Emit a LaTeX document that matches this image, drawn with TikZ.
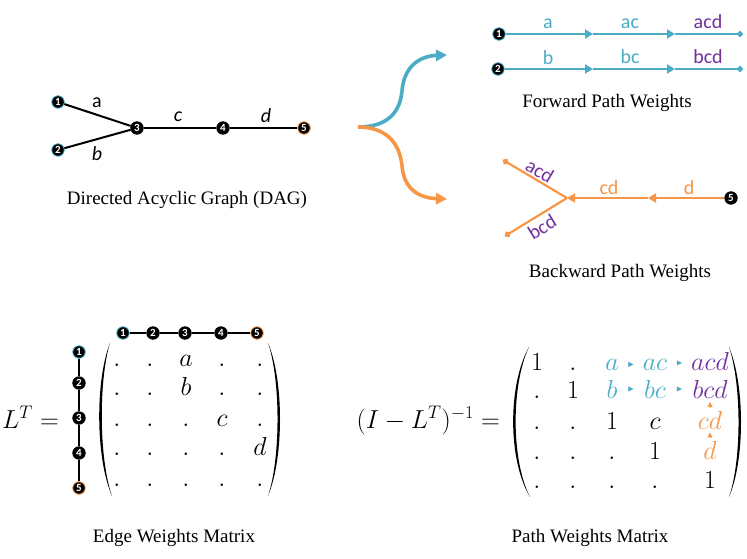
\documentclass[tikz,border=0pt]{standalone}
\usepackage{fix-cm}
\usepackage[no-math]{fontspec}
\setmainfont{Liberation Serif}
\newfontfamily\lblfont{Carlito}
\usetikzlibrary{arrows.meta,positioning,calc}
\definecolor{pathblue}{RGB}{75,172,198}
\definecolor{pathorange}{RGB}{247,150,70}
\definecolor{pathpurple}{RGB}{112,48,160}
\tikzset{
  vtx/.style={circle, fill=black, draw=black, line width=0.8pt, inner sep=0pt,
              minimum size=12.5pt, text=white, font=\lblfont\bfseries\fontsize{11}{11}\selectfont},
  srcvtx/.style={vtx, draw=pathblue},
  snkvtx/.style={vtx, draw=pathorange},
  dagedge/.style={black, line width=2pt},
  fwd/.style={pathblue, line width=2.2pt},
  bwd/.style={pathorange, line width=2.2pt},
  fwdtip/.style={-{Triangle[length=8pt,width=9pt]}},
  endtip/.style={-{Circle[length=6pt]}},
  splitarr/.style={line width=3.6pt, -{Triangle[length=11pt,width=11pt]}},
  wlbl/.style={font=\lblfont\fontsize{20}{20}\selectfont, inner sep=1pt},
  caption/.style={font=\fontsize{19}{19}\selectfont},
  ent/.style={font=\fontsize{26}{30}\selectfont, inner sep=0pt, anchor=base},
  mtip/.style={-{Triangle[length=5pt,width=5pt]}, line width=0.4pt},
}
\begin{document}
\begin{tikzpicture}[x=1pt,y=-1pt]
\useasboundingbox (0,0) rectangle (747,559);

% the DAG
\node[srcvtx] (d1) at (58,102) {1};
\node[srcvtx] (d2) at (58,150) {2};
\node[vtx] (d3) at (137,128) {3};
\node[vtx] (d4) at (223,128) {4};
\node[snkvtx] (d5) at (304,128) {5};
\draw[dagedge] (d1) -- (d3);
\draw[dagedge] (d2) -- (d3);
\draw[dagedge] (d3) -- (d4);
\draw[dagedge] (d4) -- (d5);
\node[wlbl] (la) at (97,103) {a};
\node[wlbl] (lb) at (97,154) {\itshape b};
\node[wlbl] (lc) at (178,117) {\itshape c};
\node[wlbl] (ld) at (266,116) {\itshape d};
\node[caption] (dagcap) at (187,200) {Directed Acyclic Graph (DAG)};

% split into forward / backward
\coordinate (split) at (358,127);
\coordinate (fwdend) at (447,55);
\coordinate (bwdend) at (447,199);
\draw[splitarr, pathblue] (split) .. controls (388,127) and (400,112) .. (402,91)
  .. controls (404,66) and (420,56) .. (fwdend);
\draw[splitarr, pathorange] (split) .. controls (388,127) and (400,145) .. (402,166)
  .. controls (404,190) and (420,198) .. (bwdend);

% forward path weights
\node[srcvtx] (f1) at (499,34) {1};
\node[srcvtx] (f2) at (498,69) {2};
\coordinate (f1a) at (593,34);
\coordinate (f1b) at (675,34);
\coordinate (f1e) at (743,34);
\coordinate (f2a) at (593,69);
\coordinate (f2b) at (675,69);
\coordinate (f2e) at (743,69);
\draw[fwd, fwdtip] (f1) -- (f1a);
\draw[fwd, fwdtip] (f1a) -- (f1b);
\draw[fwd, endtip] (f1b) -- (f1e);
\draw[fwd, fwdtip] (f2) -- (f2a);
\draw[fwd, fwdtip] (f2a) -- (f2b);
\draw[fwd, endtip] (f2b) -- (f2e);
\node[wlbl, text=pathblue] (fa) at (548,24) {a};
\node[wlbl, text=pathblue] (fac) at (630,24) {ac};
\node[wlbl, text=pathpurple] (facd) at (708,22) {acd};
\node[wlbl, text=pathblue] (fb) at (548,58) {b};
\node[wlbl, text=pathblue] (fbc) at (630,57) {bc};
\node[wlbl, text=pathpurple] (fbcd) at (708,57) {bcd};
\node[caption] (fwdcap) at (607,103) {Forward Path Weights};

% backward path weights
\node[vtx] (b5) at (731,198) {5};
\coordinate (bmid) at (648,198);
\coordinate (bjoin) at (567,198);
\coordinate (bup) at (503,160);
\coordinate (blow) at (505,236);
\draw[bwd, fwdtip] (b5) -- (bmid);
\draw[bwd, fwdtip] (bmid) -- (bjoin);
\draw[bwd, endtip] (bjoin) -- (bup);
\draw[bwd, endtip] (bjoin) -- (blow);
\node[wlbl, text=pathorange] (bd) at (689,188) {d};
\node[wlbl, text=pathorange] (bcd) at (609,188) {cd};
\node[wlbl, text=pathpurple, rotate=-30.7] (bacd) at (540,171) {acd};
\node[wlbl, text=pathpurple, rotate=31.5] (bbcd) at (542,227) {bcd};
\node[caption] (bwdcap) at (620,273) {Backward Path Weights};

% edge weights matrix
\node[ent, anchor=base east] (ltlhs) at (59,428) {$L^T =$};
\foreach \x/\s [count=\i] in {123/srcvtx,153/vtx,185/vtx,221/vtx,257/snkvtx}
  \node[\s] (lc\i) at (\x,333) {\i};
\foreach \y/\s [count=\i] in {352/srcvtx,383/vtx,418/vtx,453/vtx,488/snkvtx}
  \node[\s] (lr\i) at (79,\y) {\i};
\draw[black, line width=1.6pt] (lc1) -- (lc2) -- (lc3) -- (lc4) -- (lc5);
\draw[black, line width=1.6pt] (lr1) -- (lr2) -- (lr3) -- (lr4) -- (lr5);
\foreach \y/\row [count=\i] in {366/{.,.,a,.,.}, 395/{.,.,b,.,.}, 426/{.,.,.,c,.},
                                455/{.,.,.,.,d}, 486/{.,.,.,.,.}}
  \foreach \e [count=\j] in \row {
    \pgfmathsetmacro{\ex}{{117,150,186,222,260}[\j-1]}
    \node[ent] (e\i\j) at (\ex,\y) {$\e$};
  }
% parentheses
\fill (110,343) .. controls (95.3,380) and (95.3,458) .. (112,496)
  .. controls (98.7,458) and (98.7,380) .. (110,343);
\fill (268,343) .. controls (284,380) and (284,458) .. (268,496)
  .. controls (280.7,458) and (280.7,380) .. (268,343);
\node[caption] (edgecap) at (174,538) {Edge Weights Matrix};

% path weights matrix
\node[ent, anchor=base east] (pwlhs) at (500,428) {$(I-L^T)^{-1} =$};
\foreach \y/\row [count=\i] in {
    370/{1/black,./black,a/pathblue,ac/pathblue,acd/pathpurple},
    398/{./black,1/black,b/pathblue,bc/pathblue,bcd/pathpurple},
    429/{./black,./black,1/black,c/black,cd/pathorange},
    459/{./black,./black,./black,1/black,d/pathorange},
    488/{./black,./black,./black,./black,1/black}}
  \foreach \e/\tc [count=\j] in \row {
    \pgfmathsetmacro{\ex}{{537,573,612,655,710}[\j-1]}
    \node[ent, text=\tc] (p\i\j) at (\ex,\y) {$\e$};
  }
% parentheses
\fill (529,347) .. controls (507.7,385) and (507.7,460) .. (530,497)
  .. controls (511,460) and (511,385) .. (529,347);
\fill (729,347) .. controls (745,385) and (745,460) .. (729,497)
  .. controls (741.7,460) and (741.7,385) .. (729,347);
\path (p13) -- coordinate[midway] (t1) (p14);
\path (p14) -- coordinate[midway] (t2) (p15);
\path (p23) -- coordinate[midway] (t3) (p24);
\path (p24) -- coordinate[midway] (t4) (p25);
\path (p25) -- coordinate[midway] (t5) (p35);
\path (p35) -- coordinate[midway] (t6) (p45);
\foreach \t in {t1,t2,t3,t4}
  \draw[mtip, pathblue] ($(\t)+(-2.6,0)$) -- ($(\t)+(2.6,0)$);
\foreach \t in {t5,t6}
  \draw[mtip, pathorange] ($(\t)+(0,2.6)$) -- ($(\t)+(0,-2.6)$);
\node[caption] (pathcap) at (590,538) {Path Weights Matrix};
\end{tikzpicture}
\end{document}
